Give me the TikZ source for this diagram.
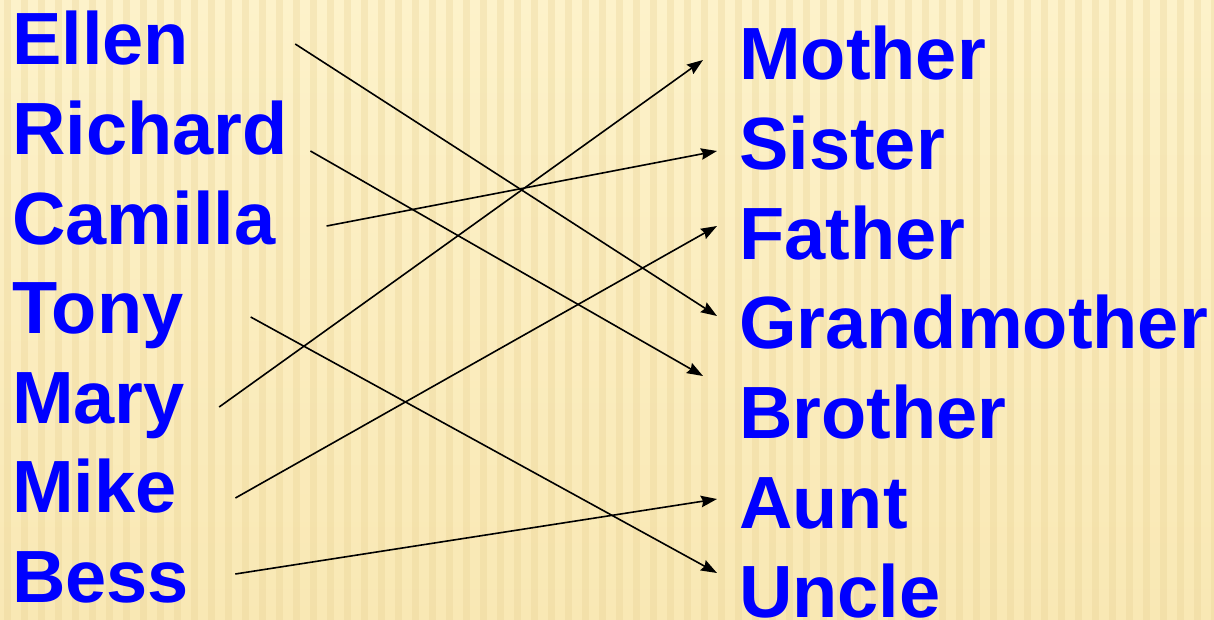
\documentclass[tikz,border=0pt]{standalone}
\usepackage{fontspec}
\setmainfont{Liberation Sans}
\usepackage{tikz}
\usetikzlibrary{calc,arrows.meta}
\usepackage{xcolor}
\definecolor{wordblue}{RGB}{0,0,255}
\definecolor{papertop}{RGB}{253,242,202}
\definecolor{paperbot}{RGB}{249,232,180}
\definecolor{stripecol}{RGB}{232,208,145}

\begin{document}
\begin{tikzpicture}[x=1pt, y=-1pt,
  word/.style={wordblue, anchor=base west, inner sep=0pt,
    font=\fontsize{74}{74}\selectfont\bfseries},
  link/.style={black, line width=1.6pt,
    -{Stealth[length=16pt, width=11.5pt, inset=2pt]}}]
  % Paper background
  \useasboundingbox (0,0) rectangle (1214,620);
  \shade[top color=papertop, bottom color=paperbot] (0,0) rectangle (1214,620);
  \foreach \x in {4,21,...,1214}
    \fill[stripecol, opacity=0.3] (\x,0) rectangle ++(7,620);
  % Names (left column)
  \node[word] (ellen)   at (12,65)    {Ellen};
  \node[word] (richard) at (12,154.5) {Richard};
  \node[word] (camilla) at (12,244)   {Camilla};
  \node[word] (tony)    at (12,333.5) {Tony};
  \node[word] (mary)    at (12,423)   {Mary};
  \node[word] (mike)    at (12,512.5) {Mike};
  \node[word] (bess)    at (12,602)   {Bess};
  % Relations (right column)
  \node[word] (mother)  at (739,80)    {Mother};
  \node[word] (sister)  at (739,169.6) {Sister};
  \node[word] (father)  at (739,259.2) {Father};
  \node[word] (gmother) at (739,348.8) {Grandmother};
  \node[word] (brother) at (739,438.4) {Brother};
  \node[word] (aunt)    at (739,528)   {Aunt};
  \node[word] (uncle)   at (739,617.6) {Uncle};
  % Line ends
  \coordinate (ellen-out)   at ([shift={(106,-21)}]ellen.base east);
  \coordinate (richard-out) at ([shift={(22.5,-3.5)}]richard.base east);
  \coordinate (camilla-out) at ([shift={(51,-18)}]camilla.base east);
  \coordinate (tony-out)    at ([shift={(67,-16.5)}]tony.base east);
  \coordinate (mary-out)    at ([shift={(34,-16)}]mary.base east);
  \coordinate (mike-out)    at ([shift={(58.5,-14.5)}]mike.base east);
  \coordinate (bess-out)    at ([shift={(46,-28)}]bess.base east);
  \coordinate (mother-in)   at ([shift={(-36,-20)}]mother.base west);
  \coordinate (sister-in)   at ([shift={(-22,-18.6)}]sister.base west);
  \coordinate (father-in)   at ([shift={(-22,-33.2)}]father.base west);
  \coordinate (gmother-in)  at ([shift={(-22,-32.8)}]gmother.base west);
  \coordinate (brother-in)  at ([shift={(-36,-62.4)}]brother.base west);
  \coordinate (aunt-in)     at ([shift={(-22,-29)}]aunt.base west);
  \coordinate (uncle-in)    at ([shift={(-22,-44.6)}]uncle.base west);
  % Matches
  \draw[link] (ellen-out)   -- (gmother-in);
  \draw[link] (richard-out) -- (brother-in);
  \draw[link] (camilla-out) -- (sister-in);
  \draw[link] (tony-out)    -- (uncle-in);
  \draw[link] (mary-out)    -- (mother-in);
  \draw[link] (mike-out)    -- (father-in);
  \draw[link] (bess-out)    -- (aunt-in);
\end{tikzpicture}
\end{document}
